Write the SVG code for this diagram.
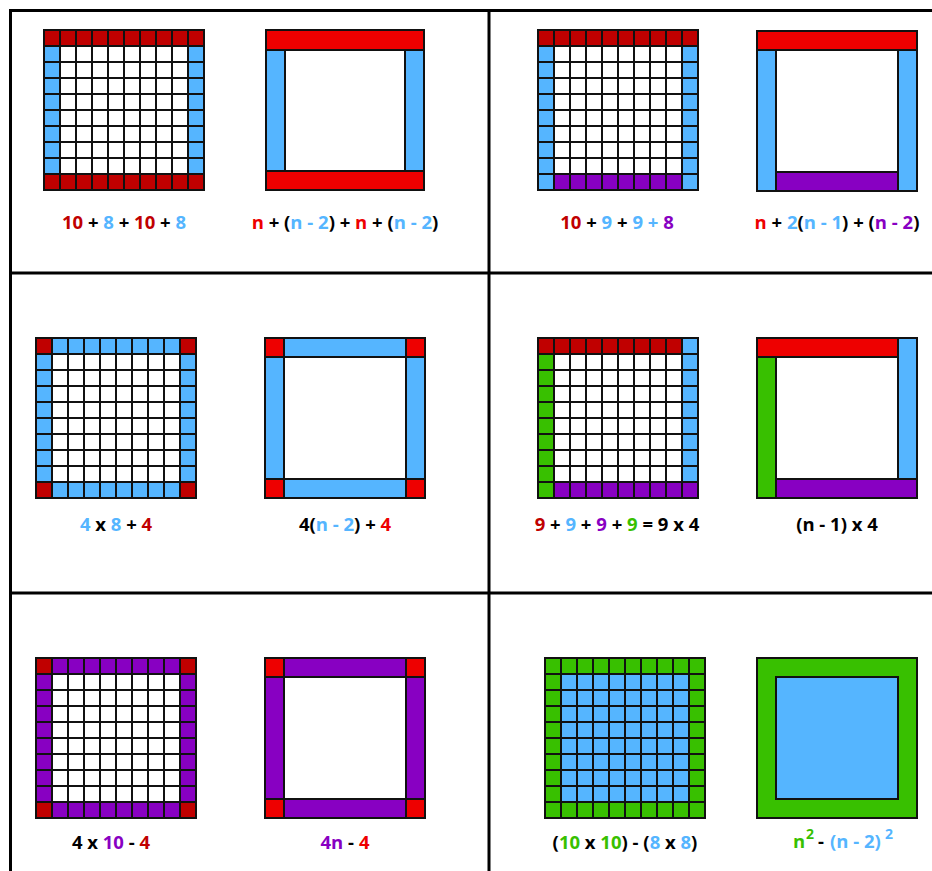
<svg xmlns="http://www.w3.org/2000/svg" width="932" height="871" viewBox="0 0 932 871">
<style>
.frame{stroke:#000;stroke-width:3;fill:none}
.o{fill:none;stroke:#111;stroke-width:2}
.s{stroke:#111;stroke-width:2}
.dr{fill:#c00000}.rd{fill:#ee0000}.bl{fill:#55b5ff}.pu{fill:#8800c2}.gr{fill:#38c000}.wh{fill:#fff}
text{font-family:"Open Sans","Liberation Sans",sans-serif;font-weight:bold;font-size:18.5px;fill:#000;text-anchor:middle}
</style>
<defs>
<pattern id="cells" width="16" height="16" patternUnits="userSpaceOnUse"><rect width="16" height="16" fill="none" stroke="#111" stroke-width="2"/></pattern>
</defs>
<rect width="932" height="871" fill="#fff"/>
<g id="frame">
<line class="frame" x1="10.5" y1="9" x2="10.5" y2="871"/>
<line class="frame" x1="9" y1="10.5" x2="932" y2="10.5"/>
<line class="frame" x1="489" y1="9" x2="489" y2="871"/>
<line class="frame" x1="9" y1="273" x2="932" y2="273"/>
<line class="frame" x1="9" y1="593" x2="932" y2="593"/>
</g>

<g id="grid1" transform="translate(44,30)">
<rect class="wh" width="160" height="160"/>
<rect class="dr" width="160" height="16"/><rect class="dr" y="144" width="160" height="16"/>
<rect class="bl" y="16" width="16" height="128"/><rect class="bl" x="144" y="16" width="16" height="128"/>
<rect width="160" height="160" fill="url(#cells)"/><rect class="o" width="160" height="160"/>
</g>
<g id="shape1">
<rect class="rd s" x="266" y="30" width="158" height="20"/>
<rect class="rd s" x="266" y="171" width="158" height="19"/>
<rect class="bl s" x="266" y="50" width="19" height="121"/>
<rect class="bl s" x="405" y="50" width="19" height="121"/>
</g>
<text id="label1" x="124" y="229"><tspan class="dr">10</tspan> + <tspan class="bl">8</tspan> + <tspan class="dr">10</tspan> + <tspan class="bl">8</tspan></text>
<text id="label2" x="345" y="229"><tspan class="rd">n</tspan> + (<tspan class="bl">n - 2</tspan>) + <tspan class="rd">n</tspan> + (<tspan class="bl">n - 2</tspan>)</text>

<g id="grid2" transform="translate(538,30)">
<rect class="wh" width="160" height="160"/>
<rect class="dr" width="160" height="16"/>
<rect class="bl" y="16" width="16" height="144"/><rect class="bl" x="144" y="16" width="16" height="144"/>
<rect class="pu" x="16" y="144" width="128" height="16"/>
<rect width="160" height="160" fill="url(#cells)"/><rect class="o" width="160" height="160"/>
</g>
<g id="shape2">
<rect class="rd s" x="757" y="31" width="160" height="19"/>
<rect class="bl s" x="757" y="50" width="19" height="141"/>
<rect class="bl s" x="898" y="50" width="19" height="141"/>
<rect class="pu s" x="776" y="172" width="122" height="19"/>
</g>
<text id="label3" x="617" y="229"><tspan class="dr">10</tspan> + <tspan class="bl">9</tspan> + <tspan class="bl">9 +</tspan> <tspan class="pu">8</tspan></text>
<text id="label4" x="837" y="229"><tspan class="rd">n</tspan> + <tspan class="bl">2</tspan>(<tspan class="bl">n - 1</tspan>) + (<tspan class="pu">n - 2</tspan>)</text>

<g id="grid3" transform="translate(36,338)">
<rect class="bl" width="160" height="160"/>
<rect class="wh" x="16" y="16" width="128" height="128"/>
<rect class="dr" width="16" height="16"/><rect class="dr" x="144" width="16" height="16"/>
<rect class="dr" y="144" width="16" height="16"/><rect class="dr" x="144" y="144" width="16" height="16"/>
<rect width="160" height="160" fill="url(#cells)"/><rect class="o" width="160" height="160"/>
</g>
<g id="shape3">
<rect class="bl s" x="284" y="338" width="122" height="19"/>
<rect class="bl s" x="284" y="479" width="122" height="19"/>
<rect class="bl s" x="265" y="357" width="19" height="122"/>
<rect class="bl s" x="406" y="357" width="19" height="122"/>
<rect class="rd s" x="265" y="338" width="19" height="19"/>
<rect class="rd s" x="406" y="338" width="19" height="19"/>
<rect class="rd s" x="265" y="479" width="19" height="19"/>
<rect class="rd s" x="406" y="479" width="19" height="19"/>
</g>
<text id="label5" x="116" y="531"><tspan class="bl">4</tspan> x <tspan class="bl">8</tspan> + <tspan class="dr">4</tspan></text>
<text id="label6" x="345" y="531">4(<tspan class="bl">n - 2</tspan>) + <tspan class="rd">4</tspan></text>

<g id="grid4" transform="translate(538,338)">
<rect class="wh" width="160" height="160"/>
<rect class="dr" width="144" height="16"/>
<rect class="bl" x="144" width="16" height="144"/>
<rect class="pu" x="16" y="144" width="144" height="16"/>
<rect class="gr" y="16" width="16" height="144"/>
<rect width="160" height="160" fill="url(#cells)"/><rect class="o" width="160" height="160"/>
</g>
<g id="shape4">
<rect class="rd s" x="757" y="338" width="141" height="19"/>
<rect class="bl s" x="898" y="338" width="19" height="141"/>
<rect class="pu s" x="776" y="479" width="141" height="19"/>
<rect class="gr s" x="757" y="357" width="19" height="141"/>
</g>
<text id="label7" x="617" y="531"><tspan class="dr">9</tspan> + <tspan class="bl">9</tspan> + <tspan class="pu">9</tspan> + <tspan class="gr">9</tspan> = 9 x 4</text>
<text id="label8" x="837" y="531">(n - 1) x 4</text>

<g id="grid5" transform="translate(36,658)">
<rect class="pu" width="160" height="160"/>
<rect class="wh" x="16" y="16" width="128" height="128"/>
<rect class="dr" width="16" height="16"/><rect class="dr" x="144" width="16" height="16"/>
<rect class="dr" y="144" width="16" height="16"/><rect class="dr" x="144" y="144" width="16" height="16"/>
<rect width="160" height="160" fill="url(#cells)"/><rect class="o" width="160" height="160"/>
</g>
<g id="shape5">
<rect class="pu s" x="284" y="658" width="122" height="19"/>
<rect class="pu s" x="284" y="799" width="122" height="19"/>
<rect class="pu s" x="265" y="677" width="19" height="122"/>
<rect class="pu s" x="406" y="677" width="19" height="122"/>
<rect class="rd s" x="265" y="658" width="19" height="19"/>
<rect class="rd s" x="406" y="658" width="19" height="19"/>
<rect class="rd s" x="265" y="799" width="19" height="19"/>
<rect class="rd s" x="406" y="799" width="19" height="19"/>
</g>
<text id="label9" x="111" y="849">4 x <tspan class="pu">10</tspan> - <tspan class="dr">4</tspan></text>
<text id="label10" x="345" y="849"><tspan class="pu">4n</tspan> - <tspan class="rd">4</tspan></text>

<g id="grid6" transform="translate(545,658)">
<rect class="gr" width="160" height="160"/>
<rect class="bl" x="16" y="16" width="128" height="128"/>
<rect width="160" height="160" fill="url(#cells)"/><rect class="o" width="160" height="160"/>
</g>
<g id="shape6">
<rect class="gr s" x="757" y="658" width="160" height="160"/>
<rect class="bl s" x="776" y="677" width="122" height="122"/>
</g>
<text id="label11" x="625" y="849">(<tspan class="gr">10</tspan> x <tspan class="gr">10</tspan>) - (<tspan class="bl">8</tspan> x <tspan class="bl">8</tspan>)</text>
<text id="label12" style="text-anchor:start"><tspan class="gr" x="793" y="848">n</tspan><tspan class="gr" x="806" y="839" style="font-size:14px">2</tspan><tspan x="818" y="848">-</tspan><tspan class="bl" x="830" y="848">(n - 2)</tspan><tspan class="bl" x="885" y="839" style="font-size:14px">2</tspan></text>
</svg>
